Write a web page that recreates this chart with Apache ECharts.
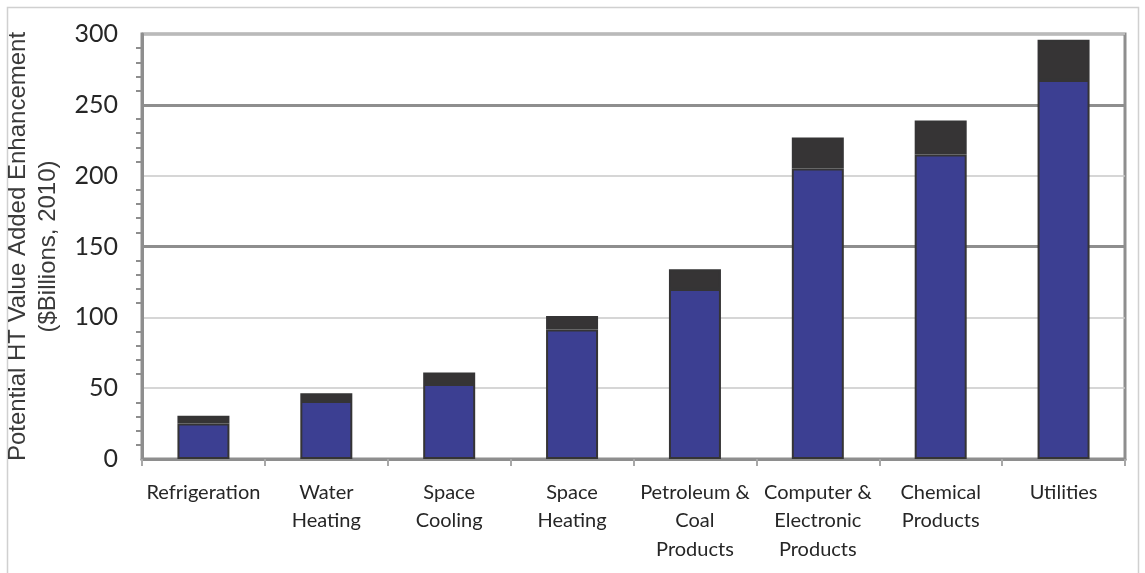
<!DOCTYPE html>
<html>
<head>
<meta charset="utf-8">
<script src="https://cdn.jsdelivr.net/npm/echarts@6/dist/echarts.min.js"></script>
<style>
  html, body { margin: 0; padding: 0; background: #ffffff; }
  #chart { width: 1145px; height: 573px; }
</style>
</head>
<body>
<div id="chart"></div>
<script>
// End uses and industries
const categories = [
  'Refrigeration', 'Water\nHeating', 'Space\nCooling', 'Space\nHeating',
  'Petroleum &\nCoal\nProducts', 'Computer &\nElectronic\nProducts',
  'Chemical\nProducts', 'Utilities'
];
// Lower (blue) segment of each bar, $ billions
const baseValues = [25, 41, 53, 91.5, 120, 205, 215, 267.5];
// Upper (dark) segment stacked on top, $ billions
const topValues = [5.5, 5.5, 8, 9.5, 14, 22, 24, 28.5];
// Heavier reference lines drawn across the plot
const majorLines = [150, 250];

const chart = echarts.init(document.getElementById('chart'), null, { renderer: 'canvas' });

const barBorder = { borderColor: '#353435', borderWidth: 2 };

chart.setOption({
  animation: false,
  backgroundColor: '#ffffff',
  graphic: [{
    type: 'rect',
    shape: { x: 7.5, y: 7.5, width: 1131, height: 600 },
    style: { fill: 'none', stroke: '#d0d0d0', lineWidth: 1.5 },
    silent: true,
    z: -10
  }],
  grid: {
    left: 142, right: 20, top: 34, bottom: 114,
    outerBoundsMode: 'none',
    containLabel: false,
    show: true,
    borderColor: '#8e8e8e',
    borderWidth: 3,
    backgroundColor: 'transparent'
  },
  xAxis: {
    type: 'category',
    data: categories,
    axisLine: { lineStyle: { color: '#8e8e8e', width: 3 } },
    axisTick: {
      show: true, interval: 0, alignWithLabel: false, length: 7,
      lineStyle: { color: '#a8a8a8', width: 2 }
    },
    axisLabel: {
      interval: 0, margin: 19,
      fontFamily: 'Lato', fontSize: 20, color: '#262626',
      lineHeight: 28.5, align: 'center'
    },
    splitLine: { show: false }
  },
  yAxis: {
    type: 'value',
    min: 0, max: 300, interval: 50,
    name: 'Potential HT Value Added Enhancement\n($Billions, 2010)',
    nameLocation: 'middle',
    nameGap: 78,
    nameTextStyle: {
      fontFamily: 'Liberation Sans', fontSize: 24, color: '#3a3a3a',
      lineHeight: 30, align: 'center'
    },
    axisLine: { show: true, lineStyle: { color: '#8e8e8e', width: 3 } },
    axisTick: { show: false },
    minorTick: {
      show: true, splitNumber: 5, length: 6,
      lineStyle: { color: '#8e8e8e', width: 2 }
    },
    axisLabel: {
      margin: 24,
      fontFamily: 'Lato', fontSize: 25, color: '#262626'
    },
    splitLine: { show: true, lineStyle: { color: '#c8c8c8', width: 1.5 } },
    minorSplitLine: { show: false }
  },
  series: [
    {
      name: 'Base',
      type: 'bar',
      stack: 'total',
      data: baseValues,
      barWidth: 52,
      itemStyle: Object.assign({ color: '#3c3f92' }, barBorder),
      markLine: {
        silent: true,
        symbol: 'none',
        label: { show: false },
        lineStyle: { color: '#8e8e8e', width: 3, type: 'solid' },
        data: majorLines.map(v => ({ yAxis: v })),
        z: 1
      },
      z: 3
    },
    {
      name: 'Additional',
      type: 'bar',
      stack: 'total',
      data: topValues,
      barWidth: 52,
      itemStyle: Object.assign({ color: '#363435' }, barBorder),
      z: 3
    }
  ]
});
</script>
</body>
</html>
